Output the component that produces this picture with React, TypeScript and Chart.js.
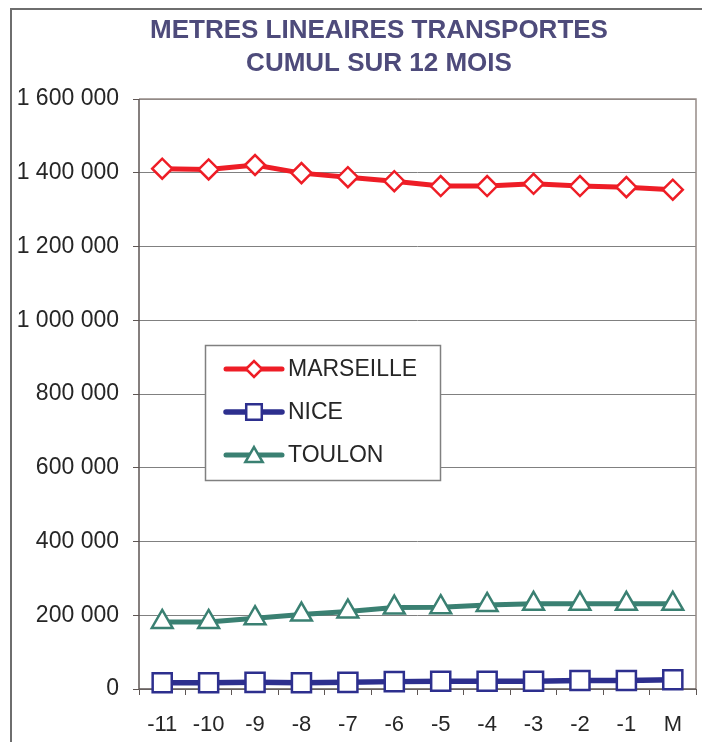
import React, { useEffect, useRef } from 'react';
import { Chart, registerables } from 'chart.js';

Chart.register(...registerables);

const categories = ['-11', '-10', '-9', '-8', '-7', '-6', '-5', '-4', '-3', '-2', '-1', 'M'];
const marseille = [1411000, 1409000, 1421000, 1399000, 1388000, 1377000, 1364000, 1364000, 1370000, 1364000, 1361000, 1354000];
const nice = [17000, 17000, 18000, 17000, 18000, 20000, 21000, 21000, 21000, 23000, 23000, 25000];
const toulon = [182000, 182000, 192000, 202000, 210000, 221000, 222000, 228000, 231000, 231000, 231000, 231000];
const seriesNames = ['MARSEILLE', 'NICE', 'TOULON'];
const titleLines = ['METRES LINEAIRES TRANSPORTES', 'CUMUL SUR 12 MOIS'];
const yMin = 0;
const yMax = 1600000;
const yStep = 200000;

const FONT = "'Liberation Sans', Arial, Helvetica, sans-serif";
const RED = '#EE1D26';
const BLUE = '#2D2F8E';
const TEAL = '#3A8072';
const TITLE_COLOR = '#4E4B7B';
const TEXT_COLOR = '#262626';

function fmt(v: number): string {
  return String(v).replace(/\B(?=(\d{3})+(?!\d))/g, ' ');
}

function drawMarker(ctx: CanvasRenderingContext2D, style: string, x: number, y: number, r: number) {
  ctx.beginPath();
  if (style === 'rectRot') {
    ctx.moveTo(x - r, y);
    ctx.lineTo(x, y - r);
    ctx.lineTo(x + r, y);
    ctx.lineTo(x, y + r);
    ctx.closePath();
  } else if (style === 'rect') {
    const s = r * Math.SQRT1_2;
    ctx.rect(x - s, y - s, 2 * s, 2 * s);
  } else {
    ctx.moveTo(x, y - r);
    ctx.lineTo(x + r * 0.866, y + r * 0.5);
    ctx.lineTo(x - r * 0.866, y + r * 0.5);
    ctx.closePath();
  }
  ctx.fill();
  ctx.stroke();
}

const decorPlugin = {
  id: 'decor',
  beforeDraw(chart: any) {
    const ctx = chart.ctx as CanvasRenderingContext2D;
    ctx.save();
    ctx.fillStyle = '#ffffff';
    ctx.fillRect(0, 0, chart.width, chart.height);
    ctx.strokeStyle = '#6E6E6E';
    ctx.lineWidth = 2;
    ctx.strokeRect(11, 9, chart.width + 20, chart.height + 20);
    ctx.fillStyle = TITLE_COLOR;
    ctx.font = `bold 26px ${FONT}`;
    ctx.textAlign = 'center';
    ctx.textBaseline = 'middle';
    ctx.fillText(titleLines[0], 379, 31);
    ctx.fillText(titleLines[1], 379, 64);
    ctx.restore();
  },
  beforeDatasetsDraw(chart: any) {
    const ctx = chart.ctx as CanvasRenderingContext2D;
    const a = chart.chartArea;
    ctx.save();
    ctx.strokeStyle = '#968C88';
    ctx.lineWidth = 1.5;
    ctx.beginPath();
    ctx.moveTo(a.left, a.top);
    ctx.lineTo(a.right, a.top);
    ctx.lineTo(a.right, a.bottom);
    ctx.stroke();
    ctx.strokeStyle = '#5E5654';
    ctx.beginPath();
    ctx.moveTo(a.left, a.top);
    ctx.lineTo(a.left, a.bottom);
    ctx.lineTo(a.right, a.bottom);
    ctx.stroke();
    ctx.restore();
  },
  afterDraw(chart: any) {
    const ctx = chart.ctx as CanvasRenderingContext2D;
    ctx.save();
    const bx = 205.5, by = 345.5, bw = 235, bh = 135;
    ctx.fillStyle = '#ffffff';
    ctx.fillRect(bx, by, bw, bh);
    ctx.strokeStyle = '#808080';
    ctx.lineWidth = 1.5;
    ctx.strokeRect(bx, by, bw, bh);
    const rows = [369, 412, 455];
    const legendR = [8, 11, 10];
    chart.data.datasets.forEach((ds: any, i: number) => {
      const y = rows[i];
      ctx.strokeStyle = ds.borderColor;
      ctx.lineWidth = ds.borderWidth;
      ctx.lineCap = 'round';
      ctx.beginPath();
      ctx.moveTo(226, y);
      ctx.lineTo(282, y);
      ctx.stroke();
      ctx.lineCap = 'butt';
      ctx.lineWidth = ds.pointBorderWidth;
      ctx.fillStyle = '#ffffff';
      drawMarker(ctx, ds.pointStyle, 254, y + (ds.pointStyle === 'triangle' ? 2 : 0), legendR[i]);
      ctx.fillStyle = TEXT_COLOR;
      ctx.font = `23px ${FONT}`;
      ctx.textAlign = 'left';
      ctx.textBaseline = 'middle';
      ctx.fillText(ds.label, 288, y + 1);
    });
    ctx.restore();
  },
};

export default function App() {
  const ref = useRef<HTMLCanvasElement | null>(null);

  useEffect(() => {
    if (!ref.current) return;
    const chart = new Chart(ref.current, {
      type: 'line',
      data: {
        labels: categories,
        datasets: [
          {
            label: seriesNames[0],
            data: marseille,
            borderColor: RED,
            borderWidth: 5,
            pointStyle: 'rectRot',
            pointRadius: 10,
            pointBorderWidth: 2.5,
            pointBackgroundColor: '#ffffff',
            pointBorderColor: RED,
            tension: 0,
            clip: false,
          },
          {
            label: seriesNames[1],
            data: nice,
            borderColor: BLUE,
            borderWidth: 5.5,
            pointStyle: 'rect',
            pointRadius: 13.5,
            pointBorderWidth: 2.5,
            pointBackgroundColor: '#ffffff',
            pointBorderColor: BLUE,
            tension: 0,
            clip: false,
          },
          {
            label: seriesNames[2],
            data: toulon,
            borderColor: TEAL,
            borderWidth: 5,
            pointStyle: 'triangle',
            pointRadius: 12,
            pointBorderWidth: 2.5,
            pointBackgroundColor: '#ffffff',
            pointBorderColor: TEAL,
            tension: 0,
            clip: false,
          },
        ],
      },
      options: {
        responsive: false,
        animation: false,
        devicePixelRatio: 1,
        layout: { padding: { top: 99, right: 64, left: 0, bottom: 0 } },
        plugins: {
          legend: { display: false },
          title: { display: false },
          tooltip: { enabled: false },
        },
        scales: {
          x: {
            type: 'category',
            offset: true,
            grid: {
              offset: true,
              drawOnChartArea: false,
              drawTicks: true,
              tickLength: 6,
              color: '#5E5654',
              lineWidth: 1,
            },
            border: { display: false },
            ticks: {
              color: TEXT_COLOR,
              font: { family: FONT, size: 22 },
              padding: 17,
              maxRotation: 0,
              autoSkip: false,
            },
            afterFit: (scale: any) => {
              scale.height = 71;
            },
          },
          y: {
            min: yMin,
            max: yMax,
            ticks: {
              stepSize: yStep,
              color: TEXT_COLOR,
              font: { family: FONT, size: 23 },
              padding: 14,
              callback: (v: any) => fmt(Number(v)),
            },
            grid: {
              color: '#808080',
              lineWidth: 1,
              tickLength: 6,
              tickColor: '#5E5654',
            },
            border: { display: false },
            afterFit: (scale: any) => {
              scale.width = 139;
            },
          },
        },
      },
      plugins: [decorPlugin],
    });
    return () => chart.destroy();
  }, []);

  return (
    <div style={{ position: 'fixed', left: 0, top: 0, width: 702, height: 742, overflow: 'hidden', background: '#fff' }}>
      <canvas ref={ref} width={760} height={760} style={{ display: 'block', width: 760, height: 760 }} />
    </div>
  );
}
